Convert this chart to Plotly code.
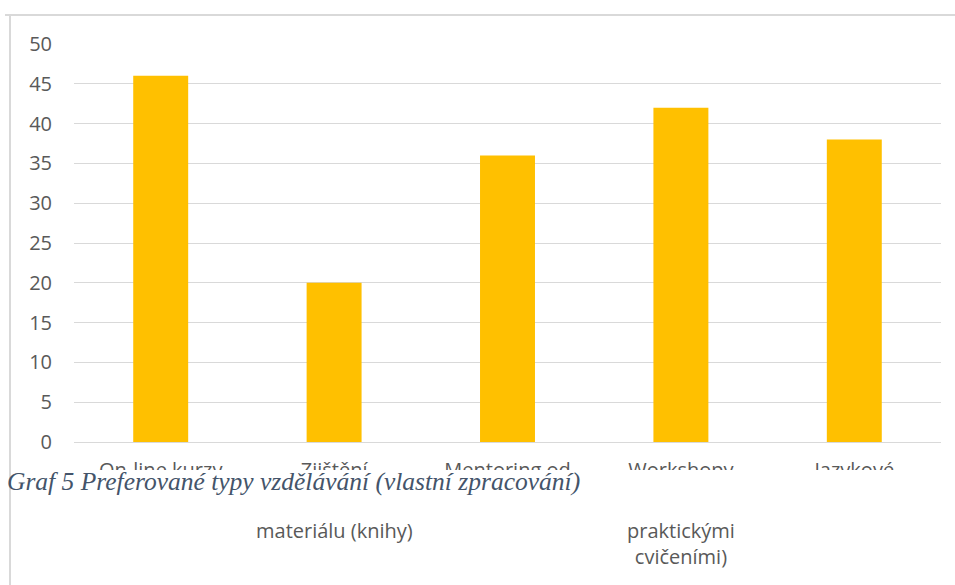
import plotly.graph_objects as go

# ---- data ----
categories = ["On-line kurzy", "Zjištění", "Mentoring od", "Workshopy", "Jazykové"]
values = [46, 20, 36, 42, 38]
# lower (visible) continuation lines of the wrapped category labels
label_tails = {"Zjištění": "materiálu (knihy)", "Workshopy": "praktickými<br>cvičeními)"}
y_ticks = [0, 5, 10, 15, 20, 25, 30, 35, 40, 45, 50]
caption = "Graf 5 Preferované typy vzdělávání (vlastní zpracování)"

W, H = 955, 585
L, R, T, B = 74, 14, 44, 143
pw, ph = W - L - R, H - T - B


def px(x):
    return (x - L) / pw


def py(y):
    return (H - B - y) / ph


fig = go.Figure(go.Bar(x=categories, y=values, marker_color="#FFC000",
                       marker_line_width=0))

font_family = "Open Sans"
tick_color = "#595959"

fig.update_layout(
    width=W, height=H,
    margin=dict(l=L, r=R, t=T, b=B, pad=0),
    paper_bgcolor="white", plot_bgcolor="white",
    bargap=0.683,
    showlegend=False,
    font=dict(family=font_family, size=20, color=tick_color),
)
fig.update_yaxes(range=[0, 50], tickvals=y_ticks, showgrid=True,
                 gridcolor="#d9d9d9", gridwidth=1.3, zeroline=False,
                 showline=False, ticks="outside", ticklen=17,
                 tickcolor="rgba(0,0,0,0)",
                 tickfont=dict(family=font_family, size=20, color=tick_color))
fig.update_xaxes(showgrid=False, showline=True, linecolor="#d9d9d9",
                 linewidth=1.3, ticks="outside", ticklen=10,
                 tickcolor="rgba(0,0,0,0)",
                 tickfont=dict(family=font_family, size=20, color=tick_color))

shapes = []
# document frame lines
shapes.append(dict(type="line", xref="paper", yref="paper", x0=px(5), x1=px(955),
                   y0=py(15), y1=py(15), line=dict(color="#d9d9d9", width=2)))
shapes.append(dict(type="line", xref="paper", yref="paper", x0=px(10), x1=px(10),
                   y0=py(15), y1=py(585), line=dict(color="#d9d9d9", width=2)))
# caption box covering part of the labels
shapes.append(dict(type="rect", xref="paper", yref="paper", x0=px(11), x1=px(960),
                   y0=py(470), y1=py(525), fillcolor="white",
                   line=dict(width=0), layer="above"))
fig.update_layout(shapes=shapes)

annotations = []
for cat, txt in label_tails.items():
    annotations.append(dict(x=cat, xref="x", y=py(515), yref="paper",
                            yanchor="top", xanchor="center", showarrow=False,
                            text=txt, align="center",
                            font=dict(family=font_family, size=20, color=tick_color)))
annotations.append(dict(x=px(5), xref="paper", y=py(481), yref="paper",
                        xanchor="left", yanchor="middle", showarrow=False,
                        text="<i>" + caption + "</i>",
                        font=dict(family="Liberation Serif", size=25.5,
                                  color="#44546A")))
fig.update_layout(annotations=annotations)

fig.write_html("out.html")
